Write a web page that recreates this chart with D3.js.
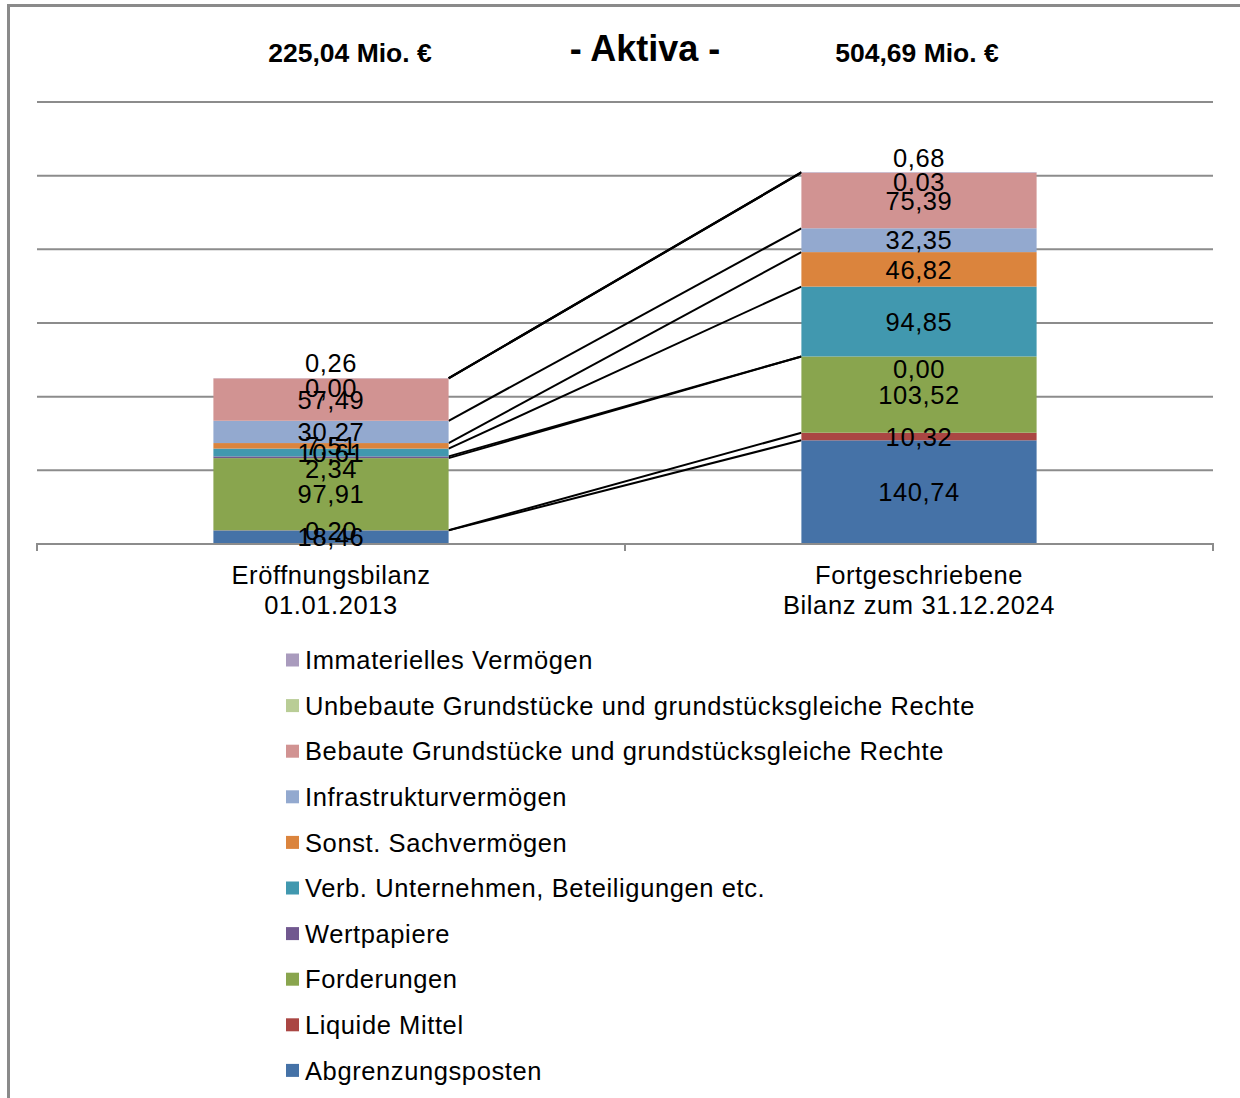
<!DOCTYPE html>
<html>
<head>
<meta charset="utf-8">
<script src="https://cdn.jsdelivr.net/npm/d3@7"></script>
<style>
  html, body { margin: 0; padding: 0; background: #fff; }
  svg { display: block; font-family: "Liberation Sans", Arial, sans-serif; }
</style>
</head>
<body>
<svg id="chart" width="1240" height="1098"></svg>
<script>
// Balance sheet categories (x axis)
const categories = [
  ["Eröffnungsbilanz", "01.01.2013"],
  ["Fortgeschriebene", "Bilanz zum 31.12.2024"]
];
const totals = ["225,04 Mio. €", "504,69 Mio. €"];

// Series in stacking order, bottom to top
const seriesNames = [
  "Abgrenzungsposten",
  "Liquide Mittel",
  "Forderungen",
  "Wertpapiere",
  "Verb. Unternehmen, Beteiligungen etc.",
  "Sonst. Sachvermögen",
  "Infrastrukturvermögen",
  "Bebaute Grundstücke und grundstücksgleiche Rechte",
  "Unbebaute Grundstücke und grundstücksgleiche Rechte",
  "Immaterielles Vermögen"
];
const seriesColors = [
  "#4572A7", "#AA4643", "#89A54E", "#71588F", "#4198AF",
  "#DB843D", "#93A9CF", "#D19392", "#B9CD96", "#A99BBD"
];
// Values in Mio. €, one entry per category
const valuesOpening = [18.46, 0.20, 97.91, 2.34, 10.61, 7.51, 30.27, 57.49, 0.00, 0.26];
const valuesCurrent = [140.74, 10.32, 103.52, 0.00, 94.85, 46.82, 32.35, 75.39, 0.03, 0.68];
const yTicks = [0, 100, 200, 300, 400, 500, 600];

// vertical offset (px) for labels of thin segments so they do not collide
const labelNudge = [0, 0, 0, 12, 0, 0, 0, 0, 9, -15];

const svg = d3.select("#chart");
const fmt = v => v.toFixed(2).replace(".", ",");
const textSize = 25.5;
const textSpacing = 0.6;

// outer frame
svg.append("path")
  .attr("d", "M8.5,1098 L8.5,5.5 L1240,5.5")
  .attr("fill", "none").attr("stroke", "#8a8a8a").attr("stroke-width", 3);

const plot = { left: 37, right: 1213, top: 102, bottom: 544 };

const x = d3.scaleBand()
  .domain(d3.range(categories.length))
  .range([plot.left, plot.right])
  .paddingInner(0.6)
  .paddingOuter(0.3);
const y = d3.scaleLinear().domain([0, 600]).range([plot.bottom, plot.top]);

// gridlines
svg.append("g")
  .selectAll("line")
  .data(yTicks.filter(t => t > 0))
  .join("line")
  .attr("x1", plot.left).attr("x2", plot.right)
  .attr("y1", d => y(d)).attr("y2", d => y(d))
  .attr("stroke", "#8c8c8c").attr("stroke-width", 2);

// stacked data
const rows = [valuesOpening, valuesCurrent].map(vals => {
  const r = {};
  seriesNames.forEach((n, i) => r[n] = vals[i]);
  return r;
});
const stacked = d3.stack().keys(seriesNames)(rows);

// series lines between the bars (top edge of each series)
const linesG = svg.append("g");
stacked.forEach(layer => {
  linesG.append("line")
    .attr("x1", x(0) + x.bandwidth())
    .attr("y1", y(layer[0][1]))
    .attr("x2", x(1))
    .attr("y2", y(layer[1][1]))
    .attr("stroke", "#000").attr("stroke-width", 2);
});

// bars
const barsG = svg.append("g");
stacked.forEach((layer, si) => {
  barsG.selectAll(null)
    .data(layer)
    .join("rect")
    .attr("x", (d, i) => x(i))
    .attr("width", x.bandwidth())
    .attr("y", d => y(d[1]))
    .attr("height", d => y(d[0]) - y(d[1]))
    .attr("fill", seriesColors[si]);
});

// x axis
const axisG = svg.append("g").attr("transform", `translate(0,${plot.bottom})`);
axisG.append("line")
  .attr("x1", plot.left).attr("x2", plot.right)
  .attr("stroke", "#8c8c8c").attr("stroke-width", 2);
[plot.left, (plot.left + plot.right) / 2, plot.right].forEach(tx => {
  axisG.append("line")
    .attr("x1", tx).attr("x2", tx).attr("y1", -1).attr("y2", 7)
    .attr("stroke", "#8c8c8c").attr("stroke-width", 2);
});

// data labels
const labelsG = svg.append("g")
  .attr("font-size", textSize).attr("letter-spacing", textSpacing)
  .attr("fill", "#000").attr("text-anchor", "middle");
stacked.forEach((layer, si) => {
  layer.forEach((d, ci) => {
    labelsG.append("text")
      .attr("x", x(ci) + x.bandwidth() / 2)
      .attr("y", y((d[0] + d[1]) / 2) + labelNudge[si])
      .attr("dy", "0.36em")
      .text(fmt(d[1] - d[0]));
  });
});

// category labels
categories.forEach((lines, ci) => {
  const cx = x(ci) + x.bandwidth() / 2;
  const t = svg.append("text")
    .attr("x", cx)
    .attr("y", 584)
    .attr("text-anchor", "middle")
    .attr("font-size", textSize)
    .attr("letter-spacing", textSpacing)
    .attr("fill", "#000");
  lines.forEach((ln, li) => {
    t.append("tspan")
      .attr("x", cx)
      .attr("dy", li === 0 ? 0 : 30)
      .text(ln);
  });
});

// title and totals
svg.append("text")
  .attr("x", 645).attr("y", 61)
  .attr("text-anchor", "middle").attr("font-weight", "bold")
  .attr("font-size", 36).text("- Aktiva -");
totals.forEach((t, ci) => {
  svg.append("text")
    .attr("x", ci === 0 ? 350 : 917).attr("y", 62)
    .attr("text-anchor", "middle").attr("font-weight", "bold")
    .attr("font-size", 26.5).text(t);
});

// legend (reverse of stacking order)
const legendOrder = d3.range(seriesNames.length).reverse();
const legend = svg.append("g");
legendOrder.forEach((si, k) => {
  const cy = 660 + k * 45.6;
  legend.append("rect")
    .attr("x", 286).attr("y", cy - 6.5)
    .attr("width", 13).attr("height", 13)
    .attr("fill", seriesColors[si]);
  legend.append("text")
    .attr("x", 305).attr("y", cy)
    .attr("dy", "0.36em")
    .attr("font-size", textSize)
    .attr("letter-spacing", textSpacing)
    .attr("fill", "#000")
    .text(seriesNames[si]);
});
</script>
</body>
</html>
